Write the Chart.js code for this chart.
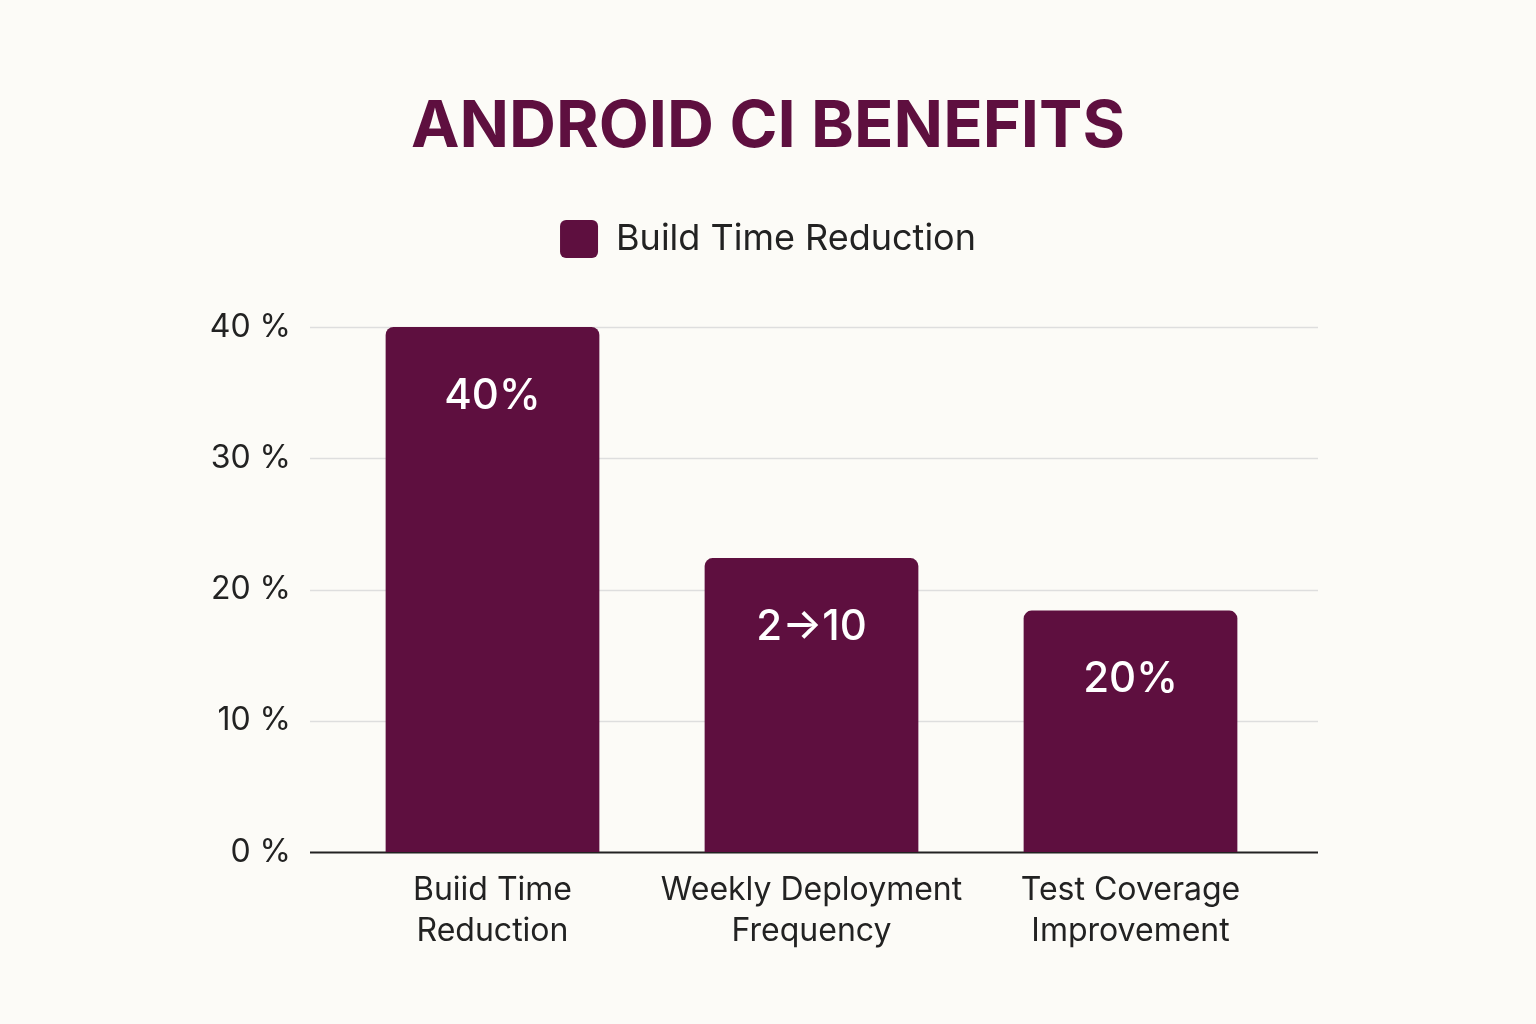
<!DOCTYPE html>
<html><head><meta charset="utf-8">
<script src="https://cdn.jsdelivr.net/npm/chart.js@4/dist/chart.umd.min.js"></script>
<style>html,body{margin:0;padding:0;background:#fcfbf7;}canvas{display:block}</style>
</head><body>
<canvas id="c" width="1536" height="1024"></canvas>
<script>
const categories = [["Buiid Time","Reduction"],["Weekly Deployment","Frequency"],["Test Coverage","Improvement"]];
const values = [40, 22.4, 18.4];
const valueLabels = ["40%", "2→10", "20%"];
const yTicks = [0, 10, 20, 30, 40];
const seriesName = "Build Time Reduction";
const barColor = "#5e0f3f";

const gridPlugin = {
  id: 'grid', beforeDatasetsDraw(chart) {
    const y = chart.scales.y, ctx = chart.ctx;
    ctx.save();
    yTicks.forEach(v => {
      const py = Math.round(y.getPixelForValue(v)) + 0.5;
      ctx.strokeStyle = v === 0 ? '#222' : '#dedede';
      ctx.lineWidth = v === 0 ? 2 : 1.5;
      ctx.beginPath(); ctx.moveTo(310, py); ctx.lineTo(1318, py); ctx.stroke();
    });
    ctx.restore();
  }
};
const labelPlugin = {
  id: 'lbl', afterDatasetsDraw(chart) {
    const ctx = chart.ctx, meta = chart.getDatasetMeta(0);
    ctx.save();
    ctx.fillStyle = '#fff'; ctx.font = '500 42px Inter, "Noto Sans", sans-serif';
    ctx.textAlign = 'center'; ctx.textBaseline = 'middle';
    meta.data.forEach((b, i) => ctx.fillText(valueLabels[i], b.x, b.y + 69));
    ctx.restore();
  }
};
const legendSpace = {
  id: 'legendSpace', beforeLayout(chart) {
    const lg = chart.legend;
    if (lg && !lg._patched) {
      const orig = lg.fit;
      lg.fit = function () { orig.call(this); this.height += 59; };
      lg._patched = true;
    }
  }
};
new Chart(document.getElementById('c'), {
  type: 'bar',
  data: { labels: categories, datasets: [{ label: seriesName, data: values, backgroundColor: barColor,
    borderRadius: {topLeft: 8, topRight: 8}, borderSkipped: 'bottom', barPercentage: 0.67, categoryPercentage: 1 }] },
  options: {
    responsive: false, devicePixelRatio: 1, animation: false,
    layout: { padding: { left: 0, right: 0, bottom: 62 } },
    plugins: {
      title: { display: true, text: 'ANDROID CI BENEFITS', color: barColor,
        font: { family: 'Inter, "Noto Sans", sans-serif', size: 65, weight: 'bold' }, padding: { top: 88, bottom: 34 } },
      legend: { labels: { boxWidth: 38, boxHeight: 38, color: '#222', padding: 20, useBorderRadius: true, borderRadius: 6,
        font: { family: 'Inter, "Noto Sans", sans-serif', size: 36 } } },
      tooltip: { enabled: false }
    },
    scales: {
      x: { grid: { display: false }, border: { display: false },
        ticks: { color: '#222', font: { family: 'Inter, "Noto Sans", sans-serif', size: 32, lineHeight: 1.28 }, padding: 10 } },
      y: { min: 0, max: 40, afterFit(s) { s.width = 333; },
        grid: { display: false }, border: { display: false },
        ticks: { stepSize: 10, color: '#222', padding: 34, callback: v => v + ' %',
          font: { family: 'Inter, "Noto Sans", sans-serif', size: 32 } } },
      y2: { position: 'right', display: true, afterFit(s) { s.width = 246; },
        grid: { display: false }, border: { display: false }, ticks: { display: false } }
    }
  },
  plugins: [gridPlugin, labelPlugin, legendSpace]
});
</script></body></html>
